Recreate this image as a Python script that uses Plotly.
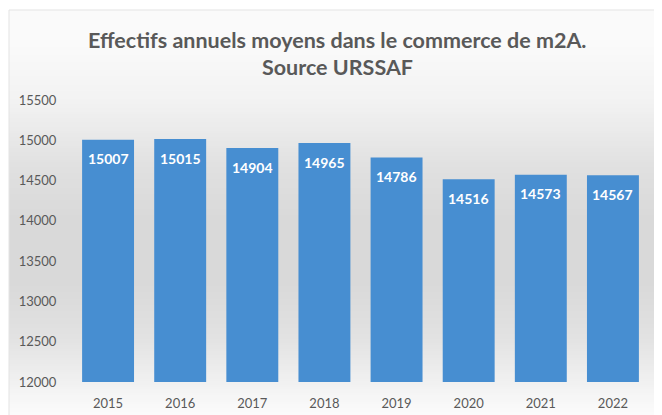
import base64
import struct
import zlib

import plotly.graph_objects as go

years = ["2015", "2016", "2017", "2018", "2019", "2020", "2021", "2022"]
effectifs = [15007, 15015, 14904, 14965, 14786, 14516, 14573, 14567]
y_ticks = [12000, 12500, 13000, 13500, 14000, 14500, 15000, 15500]
title_lines = ["Effectifs annuels moyens dans le commerce de m2A.", "Source URSSAF"]

# page is rendered with an 8px body margin -> figure coordinates = page - 8
OFF = 8
W, H = 662 - OFF, 415 - OFF
FONT = "Lato"
GREY = "#595959"


def px(x):
    return (x - OFF) / W


def py(y):
    return 1 - (y - OFF) / H


# ---- vertical gradient background as a tiny PNG (1 x N) ----
stops = [(0.0, 250), (0.08, 250), (0.22, 242), (0.38, 224), (0.5, 217), (0.65, 217),
         (0.78, 226), (0.88, 240), (0.95, 250), (1.0, 254)]  # top -> bottom


def grey_at(t):
    for (t0, g0), (t1, g1) in zip(stops[:-1], stops[1:]):
        if t0 <= t <= t1:
            return round(g0 + (g1 - g0) * (t - t0) / (t1 - t0 if t1 > t0 else 1))
    return stops[-1][1]


N = 200
raw = b"".join(b"\x00" + bytes([grey_at(i / (N - 1))] * 3) for i in range(N))


def chunk(tag, data):
    c = struct.pack(">I", len(data)) + tag + data
    return c + struct.pack(">I", zlib.crc32(tag + data) & 0xFFFFFFFF)


png = (b"\x89PNG\r\n\x1a\n" + chunk(b"IHDR", struct.pack(">IIBBBBB", 1, N, 8, 2, 0, 0, 0))
       + chunk(b"IDAT", zlib.compress(raw)) + chunk(b"IEND", b""))
bg_src = "data:image/png;base64," + base64.b64encode(png).decode()

fig = go.Figure()

fig.add_trace(go.Bar(
    x=years, y=effectifs,
    marker=dict(color="#478ed1", line=dict(width=0)),
    showlegend=False, hoverinfo="x+y",
))

for i, v in enumerate(effectifs):
    fig.add_annotation(x=i, y=v, xref="x", yref="y", text=f"<b>{v}</b>",
                       showarrow=False, yshift=-19, xanchor="center", yanchor="middle",
                       font=dict(family=FONT, size=14, color="white"))

for line, yc in zip(title_lines, (40, 67)):
    fig.add_annotation(x=px(337), y=py(yc), xref="paper", yref="paper",
                       text=f"<b>{line}</b>", showarrow=False,
                       xanchor="center", yanchor="middle",
                       font=dict(family=FONT, size=21.5, color=GREY))

fig.add_layout_image(source=bg_src, xref="paper", yref="paper",
                     x=px(9), y=py(10), sizex=1 - px(9), sizey=py(10) - py(430),
                     sizing="stretch", xanchor="left", yanchor="top", layer="below")
fig.add_shape(type="rect", xref="paper", yref="paper", x0=px(9), y0=py(430), x1=px(680),
              y1=py(10), line=dict(color="#e3e3e3", width=1), layer="below")

fig.update_layout(
    width=W, height=H,
    margin=dict(l=0, r=0, t=0, b=0, pad=0, autoexpand=False),
    paper_bgcolor="white", plot_bgcolor="rgba(0,0,0,0)",
    xaxis=dict(type="category", range=[-0.5, len(years) - 0.5], autorange=False,
               domain=[px(72), px(649)], showgrid=False, zeroline=False,
               showline=False, ticks="outside", ticklen=9, tickcolor="rgba(0,0,0,0)",
               automargin=False, tickfont=dict(family=FONT, size=13, color=GREY)),
    yaxis=dict(domain=[py(382), py(100)], range=[12000, 15500], autorange=False,
               tickvals=y_ticks, ticktext=[str(t) for t in y_ticks], showgrid=False,
               zeroline=False, showline=False, ticks="outside", ticklen=12,
               tickcolor="rgba(0,0,0,0)", automargin=False,
               tickfont=dict(family=FONT, size=13, color=GREY)),
    bargap=0.28,
)

fig.write_html("out.html")
